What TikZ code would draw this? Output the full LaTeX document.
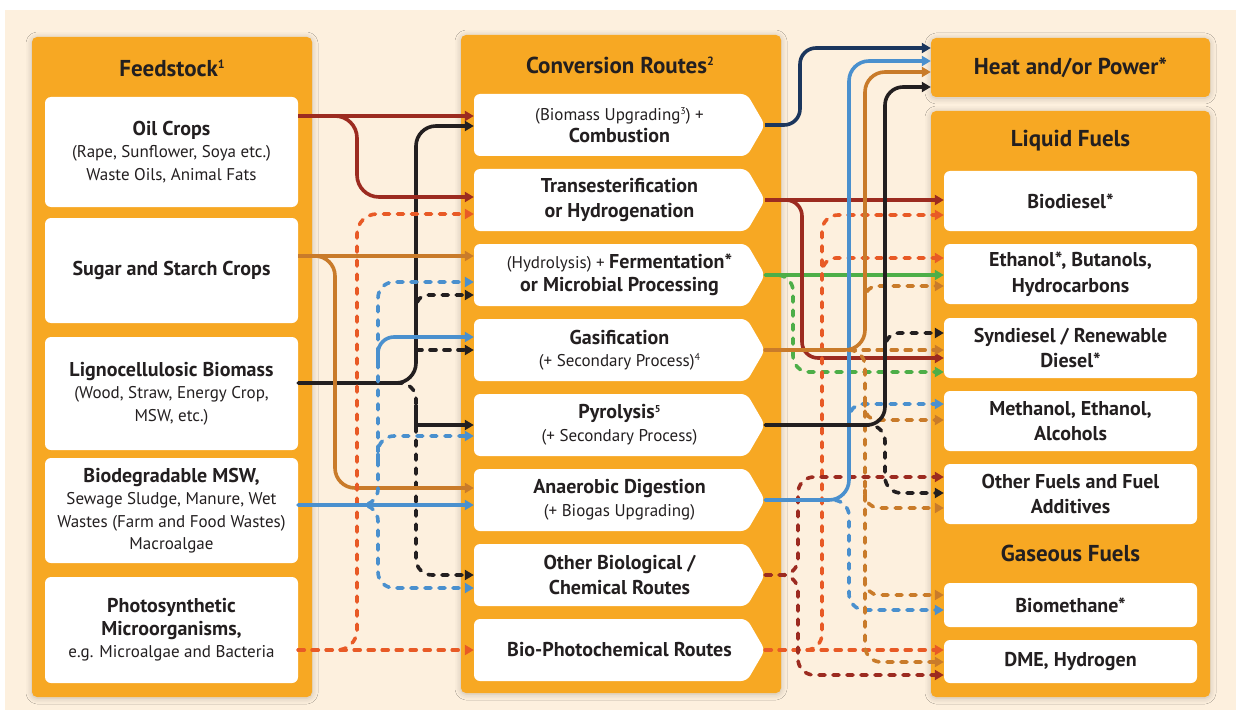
\documentclass[tikz,border=0pt]{standalone}
\usepackage{fontspec}
\setmainfont{PT Sans}
\usetikzlibrary{arrows.meta,shadows.blur}
\definecolor{cream}{HTML}{FDF0DE}
\definecolor{panelC}{HTML}{F7A823}
\definecolor{txt}{HTML}{231F20}
\definecolor{cR}{HTML}{9C2B20}
\definecolor{cK}{HTML}{231F20}
\definecolor{cB}{HTML}{C97B2A}
\definecolor{cBl}{HTML}{4A90CE}
\definecolor{cO}{HTML}{E85A26}
\definecolor{cG}{HTML}{4DAE48}
\definecolor{cN}{HTML}{1B365D}
\newcommand{\TitleFont}{\bfseries\fontsize{23}{27}\selectfont}
\newcommand{\BoldFont}{\bfseries\fontsize{20}{25.5}\selectfont}
\newcommand{\RegFont}{\fontsize{17}{22.5}\selectfont}
\newcommand{\SupA}[1]{\raisebox{8pt}{\fontsize{12}{12}\selectfont #1}}
\newcommand{\SupB}[1]{\raisebox{6pt}{\fontsize{10}{10}\selectfont #1}}
\newcommand{\Chev}[1]{\fill[white,rounded corners=6pt] (765,#1) -- (747,{#1-31}) -- (474,{#1-31}) -- (474,{#1+31}) -- (747,{#1+31}) -- cycle;}
\begin{document}
\begin{tikzpicture}[x=1pt,y=-1pt,
  panel/.style={fill=panelC, rounded corners=5pt, inner sep=0pt,
    blur shadow={shadow xshift=0pt, shadow yshift=-1pt, shadow blur radius=6pt, shadow opacity=22}},
  title/.style={font=\TitleFont, text=txt, inner sep=0pt},
  fbox/.style={fill=white, rounded corners=6pt, minimum width=253pt, inner sep=0pt, align=center, text=txt, font=\RegFont},
  obox/.style={fill=white, rounded corners=6pt, minimum width=253pt, inner sep=0pt, align=center, text=txt, font=\BoldFont},
  conv/.style={minimum width=291pt, minimum height=62pt, inner sep=0pt, align=center, text=txt, font=\RegFont},
  lw/.style={line width=3.6pt, rounded corners=16pt, -{Triangle[length=9pt,width=10pt]}},
  dl/.style={lw, dash pattern=on 6pt off 8pt, line cap=round}]
\useasboundingbox (0,0) rectangle (1236,714);
\fill[white] (0,0) rectangle (1236,714);
\fill[cream] (5,10) rectangle (1236,710);

% panels
\node[panel, minimum width=280pt, minimum height=660pt] (fp) at (172,367) {};
\node[panel, minimum width=320pt, minimum height=658pt] (cp) at (621,364) {};
\node[panel, minimum width=279pt, minimum height=59pt] (h) at (1070.5,67.5) {};
\node[panel, minimum width=279pt, minimum height=586pt] (lp) at (1070.5,404) {};

% titles
\node[title] (tf) at (172,68) {Feedstock\SupA{1}};
\node[title] (tc) at (620,65) {Conversion Routes\SupA{2}};
\node[title] (th) at (1070.5,68) {Heat and/or Power*};
\node[title] (tl) at (1070.5,141) {Liquid Fuels};
\node[title] (tg) at (1070.5,553) {Gaseous Fuels};

% feedstock boxes
\node[fbox, minimum height=110pt] (f1) at (171.5,152) {{\BoldFont Oil Crops}\\(Rape, Sunflower, Soya etc.)\\Waste Oils, Animal Fats};
\node[fbox, minimum height=105pt] (f2) at (171.5,270.5) {{\BoldFont Sugar and Starch Crops}};
\node[fbox, minimum height=113pt] (f3) at (171.5,393.5) {{\BoldFont Lignocellulosic Biomass}\\(Wood, Straw, Energy Crop,\\MSW, etc.)};
\node[fbox, minimum height=105pt] (f4) at (171.5,510.5) {{\BoldFont Biodegradable MSW,}\\Sewage Sludge, Manure, Wet\\Wastes (Farm and Food Wastes)\\Macroalgae};
\node[fbox, minimum height=106pt] (f5) at (171.5,630) {{\BoldFont Photosynthetic}\\{\BoldFont Microorganisms,}\\e.g. Microalgae and Bacteria};

% conversion boxes
\foreach \yy in {125,200,275,350,425,500,575,650} {\Chev{\yy}}
\node[conv] (c1) at (619.5,125) {(Biomass Upgrading\SupB{3}) +\\{\BoldFont Combustion}};
\node[conv, font=\BoldFont] (c2) at (619.5,200) {Transesterification\\or Hydrogenation};
\node[conv] (c3) at (619.5,275) {(Hydrolysis) + {\BoldFont Fermentation*}\\{\BoldFont or Microbial Processing}};
\node[conv] (c4) at (619.5,350) {{\BoldFont Gasification}\\(+ Secondary Process)\SupB{4}};
\node[conv] (c5) at (619.5,425) {{\BoldFont Pyrolysis\SupB{5}}\\(+ Secondary Process)};
\node[conv] (c6) at (619.5,500) {{\BoldFont Anaerobic Digestion}\\(+ Biogas Upgrading)};
\node[conv, font=\BoldFont] (c7) at (619.5,575) {Other Biological /\\Chemical Routes};
\node[conv, font=\BoldFont] (c8) at (619.5,650) {Bio-Photochemical Routes};

% output boxes
\node[obox, minimum height=60pt] (o1) at (1070.5,201) {Biodiesel*};
\node[obox, minimum height=60pt] (o2) at (1070.5,274) {Ethanol*, Butanols,\\Hydrocarbons};
\node[obox, minimum height=60pt] (o3) at (1070.5,348) {Syndiesel / Renewable\\Diesel*};
\node[obox, minimum height=60pt] (o4) at (1070.5,421) {Methanol, Ethanol,\\Alcohols};
\node[obox, minimum height=60pt] (o5) at (1070.5,494) {Other Fuels and Fuel\\Additives};
\node[obox, minimum height=44pt] (o6) at (1070.5,605) {Biomethane*};
\node[obox, minimum height=43pt] (o7) at (1070.5,661.5) {DME, Hydrogen};

% ---------- left connectors ----------
% black (lignocellulosic)
\draw[dl,cK] (f3.east |- 0,383) -- (416,383) -- (416,575) -- (c7.west |- 0,575);
\draw[dl,cK,rounded corners=12pt] (416,330) -- (416,295) -- (c3.west |- 0,295);
\draw[dl,cK] (416,350) -- (c4.west |- 0,350);
\draw[lw,cK,sharp corners] (416,405) |- (c5.west |- 0,425);
\draw[lw,cK,rounded corners=20pt] (f3.east |- 0,383) -- (416,383) -- (416,126) -- (c1.west |- 0,126);
% red (oil)
\draw[lw,cR] (f1.east |- 0,116) -- (c1.west |- 0,116);
\draw[lw,cR,rounded corners=22pt] (f1.east |- 0,116) -- (357,116) -- (357,197) -- (c2.west |- 0,197);
% brown (sugar)
\draw[lw,cB] (f2.east |- 0,256) -- (c3.west |- 0,256);
\draw[lw,cB,rounded corners=20pt] (f2.east |- 0,256) -- (335,256) -- (335,488) -- (c6.west |- 0,488);
% red-orange (photosynthetic)
\draw[dl,cO] (f5.east |- 0,650) -- (c8.west |- 0,650);
\draw[dl,cO,rounded corners=20pt] (f5.east |- 0,650) -- (357,650) -- (357,214) -- (c2.west |- 0,214);
% blue (MSW)
\draw[dl,cBl] (f4.east |- 0,505) -- (378,505) -- (378,282) -- (c3.west |- 0,282);
\draw[dl,cBl] (f4.east |- 0,505) -- (378,505) -- (378,588) -- (c7.west |- 0,588);
\draw[dl,cBl] (378,460) -- (378,436) -- (c5.west |- 0,436);
\draw[lw,cBl] (378,365) -- (378,337) -- (c4.west |- 0,337);
\draw[lw,cBl] (f4.east |- 0,505) -- (c6.west |- 0,505);

% ---------- right connectors ----------
% navy (combustion)
\draw[lw,cN] (c1.east) -- (800,125) -- (800,48) -- (h.west |- 0,48);
% green (fermentation)
\draw[dl,cG] (c3.east) -- (793,275) -- (793,372) -- (o3.west |- 0,372);
\draw[lw,cG] (c3.east) -- (o2.west |- c3.east);
% dark red (transesterification)
\draw[lw,cR] (c2.east) -- (o1.west |- c2.east);
\draw[lw,cR] (c2.east) -- (802,200) -- (802,358) -- (o3.west |- 0,358);
% red-orange (bio-photochemical)
\draw[dl,cO] (c8.east) -- (o7.west |- c8.east);
\draw[dl,cO] (c8.east) -- (822,650) -- (822,215) -- (o1.west |- 0,215);
\draw[dl,cO,rounded corners=14pt] (822,280) -- (822,258) -- (o2.west |- 0,258);
% dark red dashed (other biological)
\draw[dl,cR] (c7.east) -- (798,575) -- (798,477) -- (o5.west |- 0,477);
\draw[dl,cR] (c7.east) -- (798,575) -- (798,675) -- (o7.west |- 0,675);
% blue (anaerobic)
\draw[dl,cBl] (c6.east) -- (849,500) -- (849,610) -- (o6.west |- 0,610);
\draw[dl,cBl,rounded corners=14pt] (849,425) -- (849,404) -- (o4.west |- 0,404);
\draw[lw,cBl,rounded corners=20pt] (c6.east) -- (849,500) -- (849,61) -- (h.west |- 0,61);
% brown (gasification)
\draw[dl,cB] (c4.east) -- (o3.west |- c4.east);
\draw[dl,cB] (c4.east) -- (865,350) -- (865,662) -- (o7.west |- 0,662);
\draw[dl,cB,rounded corners=12pt] (865,305) -- (865,286) -- (o2.west |- 0,286);
\draw[dl,cB,rounded corners=12pt] (865,400) -- (865,420) -- (o4.west |- 0,420);
\draw[dl,cB,rounded corners=14pt] (865,490) -- (865,508) -- (o5.west |- 0,508);
\draw[dl,cB,rounded corners=14pt] (865,578) -- (865,595) -- (o6.west |- 0,595);
\draw[lw,cB,rounded corners=20pt] (c4.east) -- (865,350) -- (865,72) -- (h.west |- 0,72);
% black (pyrolysis)
\draw[dl,cK] (c5.east) -- (885,425) -- (885,493) -- (o5.west |- 0,493);
\draw[dl,cK,rounded corners=14pt] (885,355) -- (885,333) -- (o3.west |- 0,333);
\draw[lw,cK,rounded corners=18pt] (c5.east) -- (885,425) -- (885,87) -- (h.west |- 0,87);
\end{tikzpicture}
\end{document}
